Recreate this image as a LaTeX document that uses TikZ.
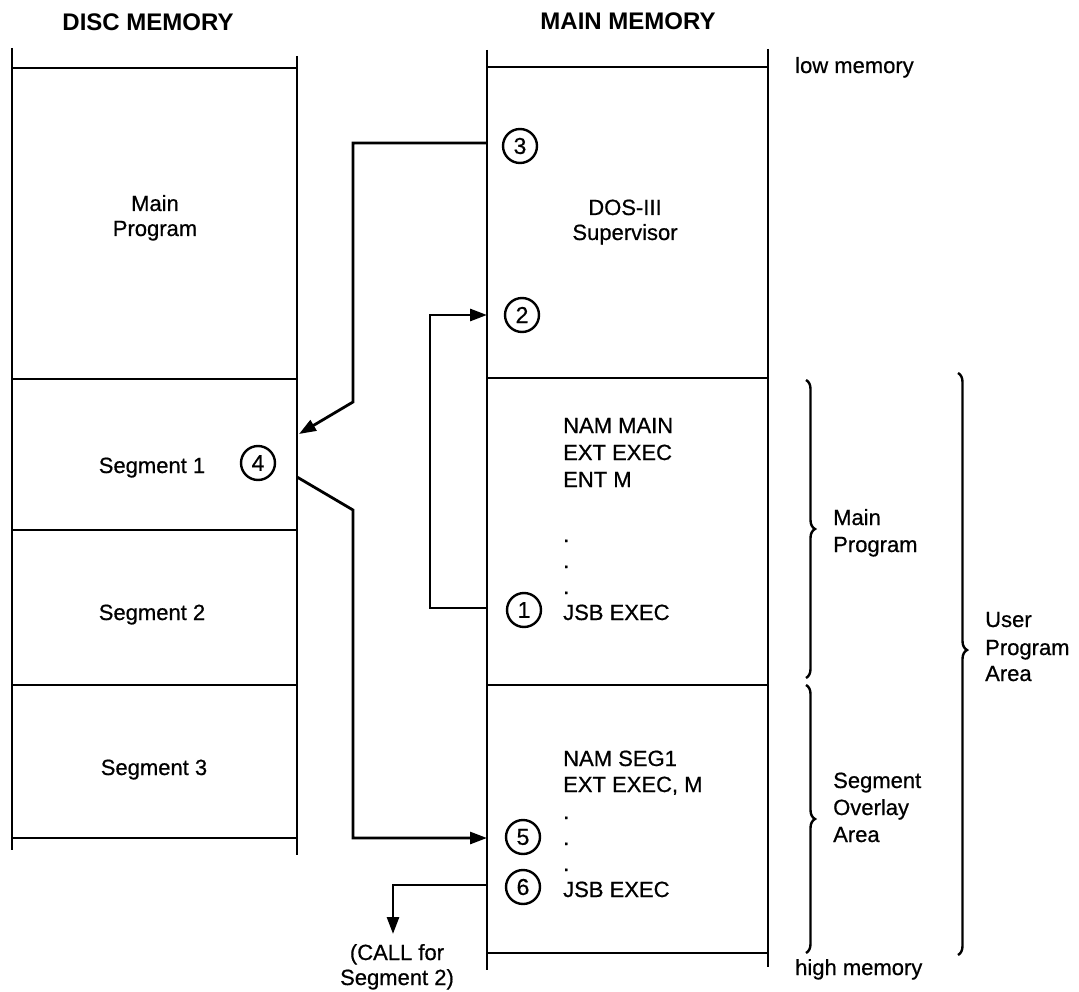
\documentclass[tikz,border=0pt]{standalone}
\usepackage{fontspec}
\setmainfont{Liberation Sans}
\newfontfamily\medfont{Liberation Sans}[FakeBold=0.6]
\usetikzlibrary{arrows.meta,decorations.pathreplacing}
\begin{document}
\begin{tikzpicture}[x=1pt,y=-1pt,
  memline/.style={line width=2.8pt},
  conn/.style={line width=2.8pt},
  arr/.style={conn,-{Triangle[length=17pt,width=12pt]}},
  num/.style={circle,draw,line width=2.4pt,minimum size=34pt,inner sep=0pt,font=\medfont\fontsize{23}{23}\selectfont},
  lbl/.style={font=\medfont\fontsize{22}{27}\selectfont,inner sep=0pt},
  ttl/.style={font=\bfseries\fontsize{24}{27}\selectfont,inner sep=0pt},
  brc/.style={decorate,decoration={brace,amplitude=9pt},line width=2.4pt}]
\useasboundingbox[fill=white] (0,0) rectangle (1079,992);

% titles
\node[ttl,anchor=base] (tdisc) at (148,31) {DISC MEMORY};
\node[ttl,anchor=base] (tmain) at (628,30) {MAIN MEMORY};

% disc memory
\draw[memline] (12,48) -- (12,850);
\draw[memline] (297,56) -- (297,855);
\foreach \yy in {68,379,530,685,838} \draw[memline] (12,\yy) -- (297,\yy);

% main memory
\draw[memline] (487,50) -- (487,970);
\draw[memline] (768,49) -- (768,967);
\foreach \yy in {67,378,685,953} \draw[memline] (487,\yy) -- (768,\yy);

% disc labels
\node[lbl,anchor=base] (dmain1) at (155,211) {Main};
\node[lbl,anchor=base] (dmain2) at (155,236) {Program};
\node[lbl,anchor=base] (dseg1) at (152,473) {Segment 1};
\node[lbl,anchor=base] (dseg2) at (152,620) {Segment 2};
\node[lbl,anchor=base] (dseg3) at (154,775) {Segment 3};

% main memory labels
\node[lbl,anchor=base west] (low) at (795,73) {low memory};
\node[lbl,anchor=base west] (high) at (795,975) {high memory};
\node[lbl,anchor=base] (dos1) at (625,215) {DOS-III};
\node[lbl,anchor=base] (dos2) at (625,240) {Supervisor};

\node[lbl,anchor=base west] (a1) at (563,433) {NAM MAIN};
\node[lbl,anchor=base west] (a2) at (563,460) {EXT EXEC};
\node[lbl,anchor=base west] (a3) at (563,487) {ENT M};
\node[lbl,anchor=base west] (a4) at (563,542) {.};
\node[lbl,anchor=base west] (a5) at (563,568) {.};
\node[lbl,anchor=base west] (a6) at (563,594) {.};
\node[lbl,anchor=base west] (a7) at (563,620) {JSB EXEC};

\node[lbl,anchor=base west] (b1) at (563,766) {NAM SEG1};
\node[lbl,anchor=base west] (b2) at (563,792) {EXT EXEC, M};
\node[lbl,anchor=base west] (b3) at (563,819) {.};
\node[lbl,anchor=base west] (b4) at (563,845) {.};
\node[lbl,anchor=base west] (b5) at (563,871) {.};
\node[lbl,anchor=base west] (b6) at (563,897) {JSB EXEC};

% circled numbers
\node[num] (n1) at (524,610) {1};
\node[num] (n2) at (522,315) {2};
\node[num] (n3) at (520,146) {3};
\node[num] (n4) at (258,463) {4};
\node[num] (n5) at (523,837) {5};
\node[num] (n6) at (523,887) {6};

% connector coordinates
\coordinate (p3) at (487,143);
\coordinate (p3a) at (353,143);
\coordinate (p3b) at (353,402);
\coordinate (p4) at (299,434);
\coordinate (q4) at (297,477);
\coordinate (q4a) at (353,510);
\coordinate (q5a) at (353,838);
\coordinate (q5) at (487,838);
\coordinate (r1) at (487,608);
\coordinate (r1a) at (430,608);
\coordinate (r2a) at (430,315);
\coordinate (r2) at (487,315);
\coordinate (s6) at (487,885);
\coordinate (s6a) at (393,885);
\coordinate (s6b) at (393,934);

\draw[arr] (p3) -- (p3a) -- (p3b) -- (p4);
\draw[arr] (q4) -- (q4a) -- (q5a) -- (q5);
\draw[arr] (r1) -- (r1a) -- (r2a) -- (r2);
\draw[arr] (s6) -- (s6a) -- (s6b);

\node[lbl,anchor=base] (call1) at (397,960) {(CALL for};
\node[lbl,anchor=base] (call2) at (397,985) {Segment 2)};

% braces
\draw[brc] (806,380) -- (806,678);
\draw[brc] (806,685) -- (806,953);
\draw[brc,decoration={brace,amplitude=9pt,aspect=0.476}] (958,373) -- (958,955);

\node[lbl,anchor=base west] (mp1) at (833,525) {Main};
\node[lbl,anchor=base west] (mp2) at (833,552) {Program};
\node[lbl,anchor=base west] (so1) at (833,788) {Segment};
\node[lbl,anchor=base west] (so2) at (833,815) {Overlay};
\node[lbl,anchor=base west] (so3) at (833,842) {Area};
\node[lbl,anchor=base west] (up1) at (985,627) {User};
\node[lbl,anchor=base west] (up2) at (985,655) {Program};
\node[lbl,anchor=base west] (up3) at (985,681) {Area};
\end{tikzpicture}
\end{document}
